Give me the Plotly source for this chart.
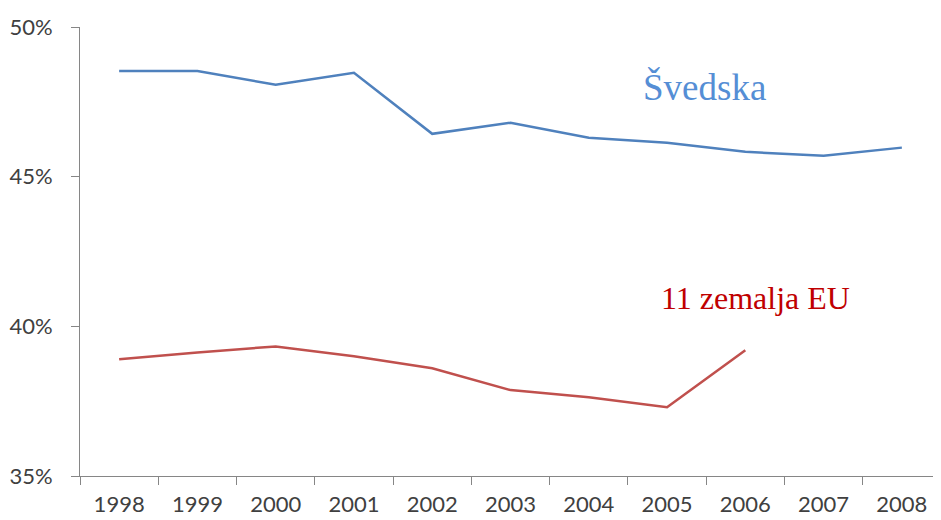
import plotly.graph_objects as go

years = ["1998", "1999", "2000", "2001", "2002", "2003", "2004", "2005", "2006", "2007", "2008"]
svedska = [48.53, 48.53, 48.07, 48.47, 46.43, 46.8, 46.3, 46.13, 45.83, 45.7, 45.97]
eu11 = [38.9, 39.13, 39.33, 39.0, 38.6, 37.87, 37.63, 37.3, 39.2, None, None]
y_ticks = [35, 40, 45, 50]
y_labels = ["35%", "40%", "45%", "50%"]

fig = go.Figure()
fig.add_trace(go.Scatter(x=years, y=svedska, mode="lines",
                         line=dict(color="#4F81BD", width=2.5), name="Švedska"))
fig.add_trace(go.Scatter(x=years, y=eu11, mode="lines",
                         line=dict(color="#C0504D", width=2.5), name="11 zemalja EU",
                         connectgaps=False))

fig.add_annotation(text="Švedska", xref="paper", yref="paper", x=0.725, y=0.866,
                   xanchor="center", yanchor="middle",
                   showarrow=False, font=dict(family="Liberation Serif", size=37, color="#558ED5"))
fig.add_annotation(text="11 zemalja EU", xref="paper", yref="paper", x=0.784, y=0.396,
                   xanchor="center", yanchor="middle",
                   showarrow=False, font=dict(family="Liberation Serif", size=32, color="#C00000"))

fig.update_layout(
    width=933, height=512,
    margin=dict(l=72, r=0, t=19, b=44),
    paper_bgcolor="white", plot_bgcolor="white",
    showlegend=False,
    font=dict(family="Lato", size=22, color="#404040"),
    xaxis=dict(type="category", showgrid=False, showline=True, linecolor="#868686", linewidth=1,
               ticks="outside", tickson="boundaries", ticklen=8, tickcolor="#868686",
               ticklabelstandoff=9, range=[-0.5, 10.5], automargin=False),
    yaxis=dict(range=[35, 50], tickvals=y_ticks, ticktext=y_labels, showgrid=False,
               showline=True, linecolor="#868686", linewidth=1, ticks="outside", ticklen=8,
               tickcolor="#868686", zeroline=False, ticklabelstandoff=14, automargin=False),
)

fig.write_html("out.html")
